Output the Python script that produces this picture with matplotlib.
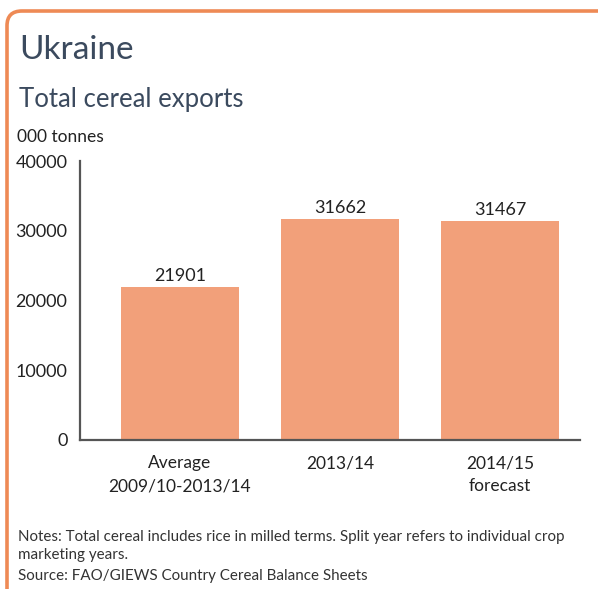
import matplotlib
matplotlib.use("Agg")
import matplotlib.pyplot as plt
from matplotlib.patches import FancyBboxPatch

categories = ["Average\n2009/10-2013/14", "2013/14", "2014/15\nforecast"]
values = [21901, 31662, 31467]
yticks = [0, 10000, 20000, 30000, 40000]

plt.rcParams['font.family'] = ['Lato', 'DejaVu Sans']

W, H = 598, 589
fig = plt.figure(figsize=(W/100, H/100), dpi=100)
fig.patch.set_facecolor('white')

# orange frame (top + left, rounded corner)
border = FancyBboxPatch((7/W, -0.2), 1.3, 1.2 - 11/H,
                        boxstyle="round,pad=0,rounding_size=0.025",
                        transform=fig.transFigure, facecolor='none',
                        edgecolor='#EE8A55', linewidth=2.6, zorder=0)
fig.patches.append(border)

ax = fig.add_axes([80/W, 1-440/H, 500/W, (440-161)/H])
x = list(range(len(categories)))
bars = ax.bar(x, values, width=0.74, color='#F2A07A', zorder=2)
ax.set_xlim(-0.625, 2.5)
ax.set_ylim(0, 40000)
ax.set_yticks(yticks)
ax.set_yticklabels([str(v) for v in yticks], fontsize=13)
ax.set_xticks(x)
ax.set_xticklabels(categories, fontsize=12.5, linespacing=1.55)
ax.tick_params(axis='x', length=0, pad=11, colors='#222222')
ax.tick_params(axis='y', length=0, pad=9, colors='#222222')
for s in ['top', 'right']:
    ax.spines[s].set_visible(False)
for s in ['left', 'bottom']:
    ax.spines[s].set_color('#555555')
    ax.spines[s].set_linewidth(1.6)

for xi, v in zip(x, values):
    ax.annotate(str(v), (xi, v), xytext=(0, 2), textcoords='offset points',
                ha='center', va='bottom', fontsize=13, color='#222222')

fig.text(19/W, 1-50/H, "Ukraine", fontsize=24, color='#3B4A5E', va='center', ha='left')
fig.text(19/W, 1-100/H, "Total cereal exports", fontsize=18.5, color='#3B4A5E', va='center', ha='left')
fig.text(17/W, 1-137/H, "000 tonnes", fontsize=12.5, color='#222222', va='center', ha='left')

fig.text(18/W, 1-537/H, "Notes: Total cereal includes rice in milled terms. Split year refers to individual crop",
         fontsize=10.9, color='#333333', va='center', ha='left')
fig.text(18/W, 1-555/H, "marketing years.", fontsize=10.9, color='#333333', va='center', ha='left')
fig.text(18/W, 1-576/H, "Source: FAO/GIEWS Country Cereal Balance Sheets", fontsize=10.9,
         color='#333333', va='center', ha='left')

fig.savefig("out.png", dpi=100, facecolor='white')
